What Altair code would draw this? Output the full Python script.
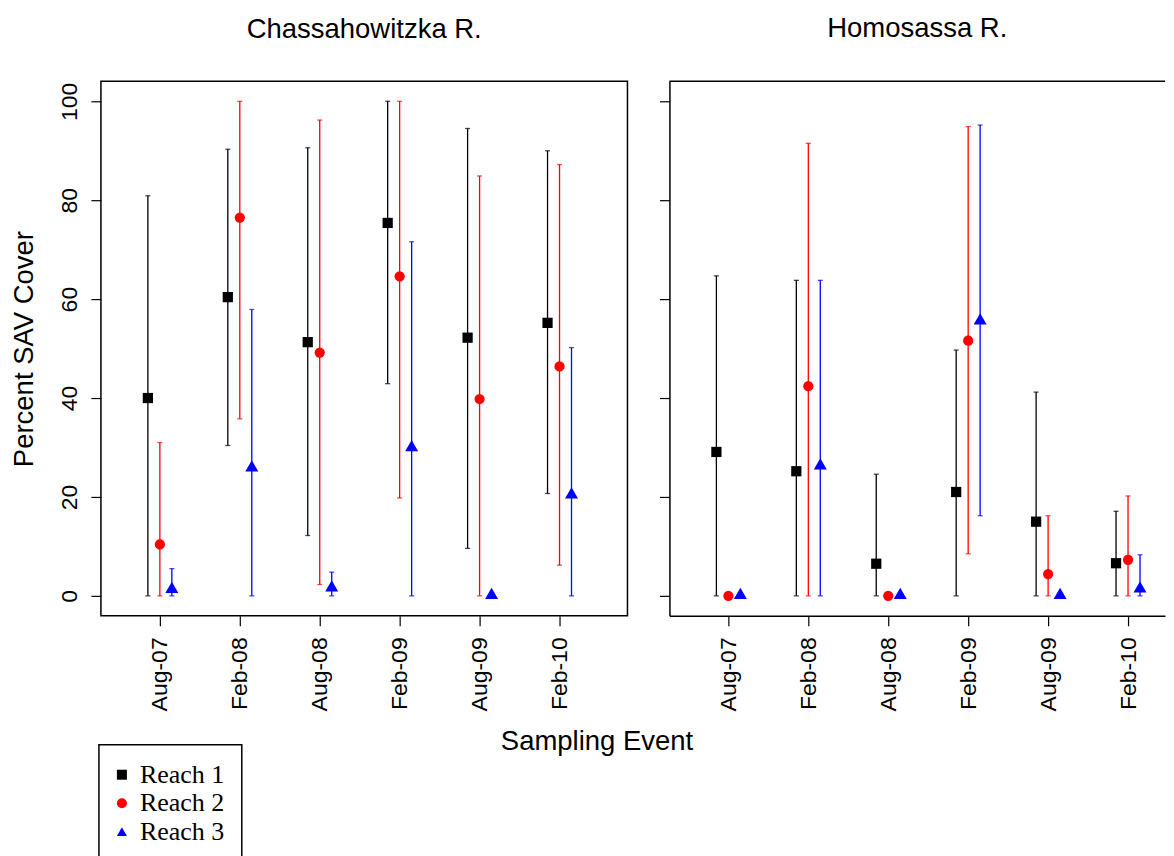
import altair as alt
import pandas as pd

events = ["Aug-07", "Feb-08", "Aug-08", "Feb-09", "Aug-09", "Feb-10"]
reaches = ["Reach 1", "Reach 2", "Reach 3"]
rivers = ["Chassahowitzka R.", "Homosassa R."]

# Chassahowitzka R.
ch_r1_mean = [40.0, 60.4, 51.3, 75.4, 52.2, 55.2]
ch_r1_lo = [0, 30.4, 12.2, 42.9, 9.6, 20.7]
ch_r1_hi = [80.9, 90.3, 90.6, 100, 94.5, 90.0]
ch_r2_mean = [10.4, 76.5, 49.2, 64.6, 39.8, 46.4]
ch_r2_lo = [0, 35.8, 2.3, 19.8, 0, 6.2]
ch_r2_hi = [31.0, 100, 96.2, 100, 84.9, 87.2]
ch_r3_mean = [1.7, 26.3, 2.0, 30.4, 0.5, 20.8]
ch_r3_lo = [0, 0, 0, 0, 0, 0]
ch_r3_hi = [5.5, 57.9, 4.8, 71.6, 0, 50.2]

# Homosassa R.
ho_r1_mean = [29.1, 25.2, 6.5, 21.0, 15.0, 6.6]
ho_r1_lo = [0, 0, 0, 0, 0, 0]
ho_r1_hi = [64.7, 63.8, 24.6, 49.7, 41.2, 17.1]
ho_r2_mean = [0, 42.4, 0, 51.6, 4.4, 7.3]
ho_r2_lo = [0, 0, 0, 8.5, 0, 0]
ho_r2_hi = [0, 91.5, 0, 94.9, 16.2, 20.2]
ho_r3_mean = [0.5, 26.7, 0.5, 56.0, 0.5, 1.8]
ho_r3_lo = [0, 0, 0, 16.2, 0, 0]
ho_r3_hi = [0, 63.8, 0, 95.2, 0, 8.3]

series = {
    ("Chassahowitzka R.", "Reach 1"): (ch_r1_mean, ch_r1_lo, ch_r1_hi),
    ("Chassahowitzka R.", "Reach 2"): (ch_r2_mean, ch_r2_lo, ch_r2_hi),
    ("Chassahowitzka R.", "Reach 3"): (ch_r3_mean, ch_r3_lo, ch_r3_hi),
    ("Homosassa R.", "Reach 1"): (ho_r1_mean, ho_r1_lo, ho_r1_hi),
    ("Homosassa R.", "Reach 2"): (ho_r2_mean, ho_r2_lo, ho_r2_hi),
    ("Homosassa R.", "Reach 3"): (ho_r3_mean, ho_r3_lo, ho_r3_hi),
}

rows = []
for (river, reach), (m, lo, hi) in series.items():
    for i, ev in enumerate(events):
        rows.append(dict(river=river, reach=reach, event=i + 1,
                         dodge=reaches.index(reach) - 1,
                         mean=m[i], lo=lo[i], hi=hi[i]))
df = pd.DataFrame(rows)

label_expr = "[" + ",".join("'%s'" % e for e in events) + "][datum.value - 1]"

color_scale = alt.Scale(domain=reaches, range=["#000000", "#ff0000", "#0000ff"])
shape_scale = alt.Scale(domain=reaches, range=["square", "circle", "triangle-up"])

legend = alt.Legend(
    title=None, orient="none", legendX=-2, legendY=664,
    strokeColor="black", fillColor="white", padding=17,
    labelFont="Liberation Serif", labelFontSize=26, labelColor="black",
    symbolSize=100, rowPadding=2.5, labelOffset=5, symbolOffset=-7,
    symbolStrokeWidth=0, symbolOpacity=1,
)

TITLE_FS = 27.5
Y_MIN, Y_MAX = -4.04, 104.04


def panel(river, first, width, xmax):
    base = alt.Chart(df).transform_filter(
        alt.datum.river == river
    ).transform_calculate(xpos="datum.event + 0.15 * datum.dodge")

    xscale = alt.Scale(domain=[0.2625, xmax], nice=False, zero=False)
    xaxis = alt.Axis(
        values=[1, 2, 3, 4, 5, 6], labelExpr=label_expr, labelAngle=-90,
        labelPadding=11, tickSize=10, grid=False, domain=not first,
        title="Sampling Event" if first else "",
        titleX=496, titleY=134, titleAlign="center", titleBaseline="alphabetic",
    )
    yaxis = alt.Axis(
        values=[0, 20, 40, 60, 80, 100], labelAngle=-90, labelAlign="center",
        labelBaseline="alphabetic", labelPadding=14, tickSize=10, grid=False,
        domain=not first, labels=first,
        title="Percent SAV Cover" if first else "", titlePadding=20,
    )
    x = alt.X("xpos:Q", scale=xscale, axis=xaxis)
    yscale = alt.Scale(domain=[Y_MIN, Y_MAX], nice=False, zero=False)
    color = alt.Color("reach:N", scale=color_scale, legend=legend)

    rules = base.mark_rule(strokeWidth=1.3).encode(
        x=x, y=alt.Y("lo:Q", scale=yscale, axis=yaxis), y2="hi:Q", color=color)
    cap_lo = base.mark_tick(orient="horizontal", size=5, thickness=1.3).encode(
        x=x, y=alt.Y("lo:Q", scale=yscale, axis=yaxis), color=color)
    cap_hi = base.mark_tick(orient="horizontal", size=5, thickness=1.3).encode(
        x=x, y=alt.Y("hi:Q", scale=yscale, axis=yaxis), color=color)
    pts = base.mark_point(filled=True, opacity=1).encode(
        x=x, y=alt.Y("mean:Q", scale=yscale, axis=yaxis), color=color,
        shape=alt.Shape("reach:N", scale=shape_scale, legend=legend),
        size=alt.condition(alt.datum.reach == "Reach 3", alt.value(169), alt.value(105)),
    )
    layers = [rules, cap_lo, cap_hi, pts]
    title = alt.TitleParams(river, font="Liberation Sans", fontSize=TITLE_FS,
                            fontWeight="normal", color="black",
                            baseline="alphabetic", offset=12, dy=-4)
    if first:
        return alt.layer(*layers).properties(width=width, height=535, title=title)
    # right panel: frame drawn by axis domains and a rule at the top of the y scale
    top = alt.Chart(df).mark_rule(color="black", strokeWidth=1.5).encode(
        y=alt.datum(Y_MAX, scale=yscale, axis=yaxis)
    ).transform_filter(alt.datum.river == river).transform_aggregate(n="count()")
    return alt.layer(*layers, top).properties(
        width=width, height=535, title=title,
        view=alt.ViewBackground(strokeOpacity=0),
    )


chart = alt.hconcat(
    panel(rivers[0], True, 527, 6.85),
    panel(rivers[1], False, 496, 0.2625 + 496 / 80.0),
    spacing=42, bounds="flush",
).properties(
    padding={"left": 2, "top": 6, "right": 0, "bottom": 0}
).configure_view(
    stroke="black", strokeWidth=1.5
).configure_axis(
    labelFont="Liberation Sans", labelFontSize=23, labelColor="black",
    titleFont="Liberation Sans", titleFontSize=TITLE_FS, titleFontWeight="normal",
    titleColor="black", tickColor="black", tickWidth=1.2,
    domainColor="black", domainWidth=1.5,
).configure_legend(
    strokeWidth=1.5
)

chart.save("out.html", embed_options={"renderer": "svg", "actions": False})
